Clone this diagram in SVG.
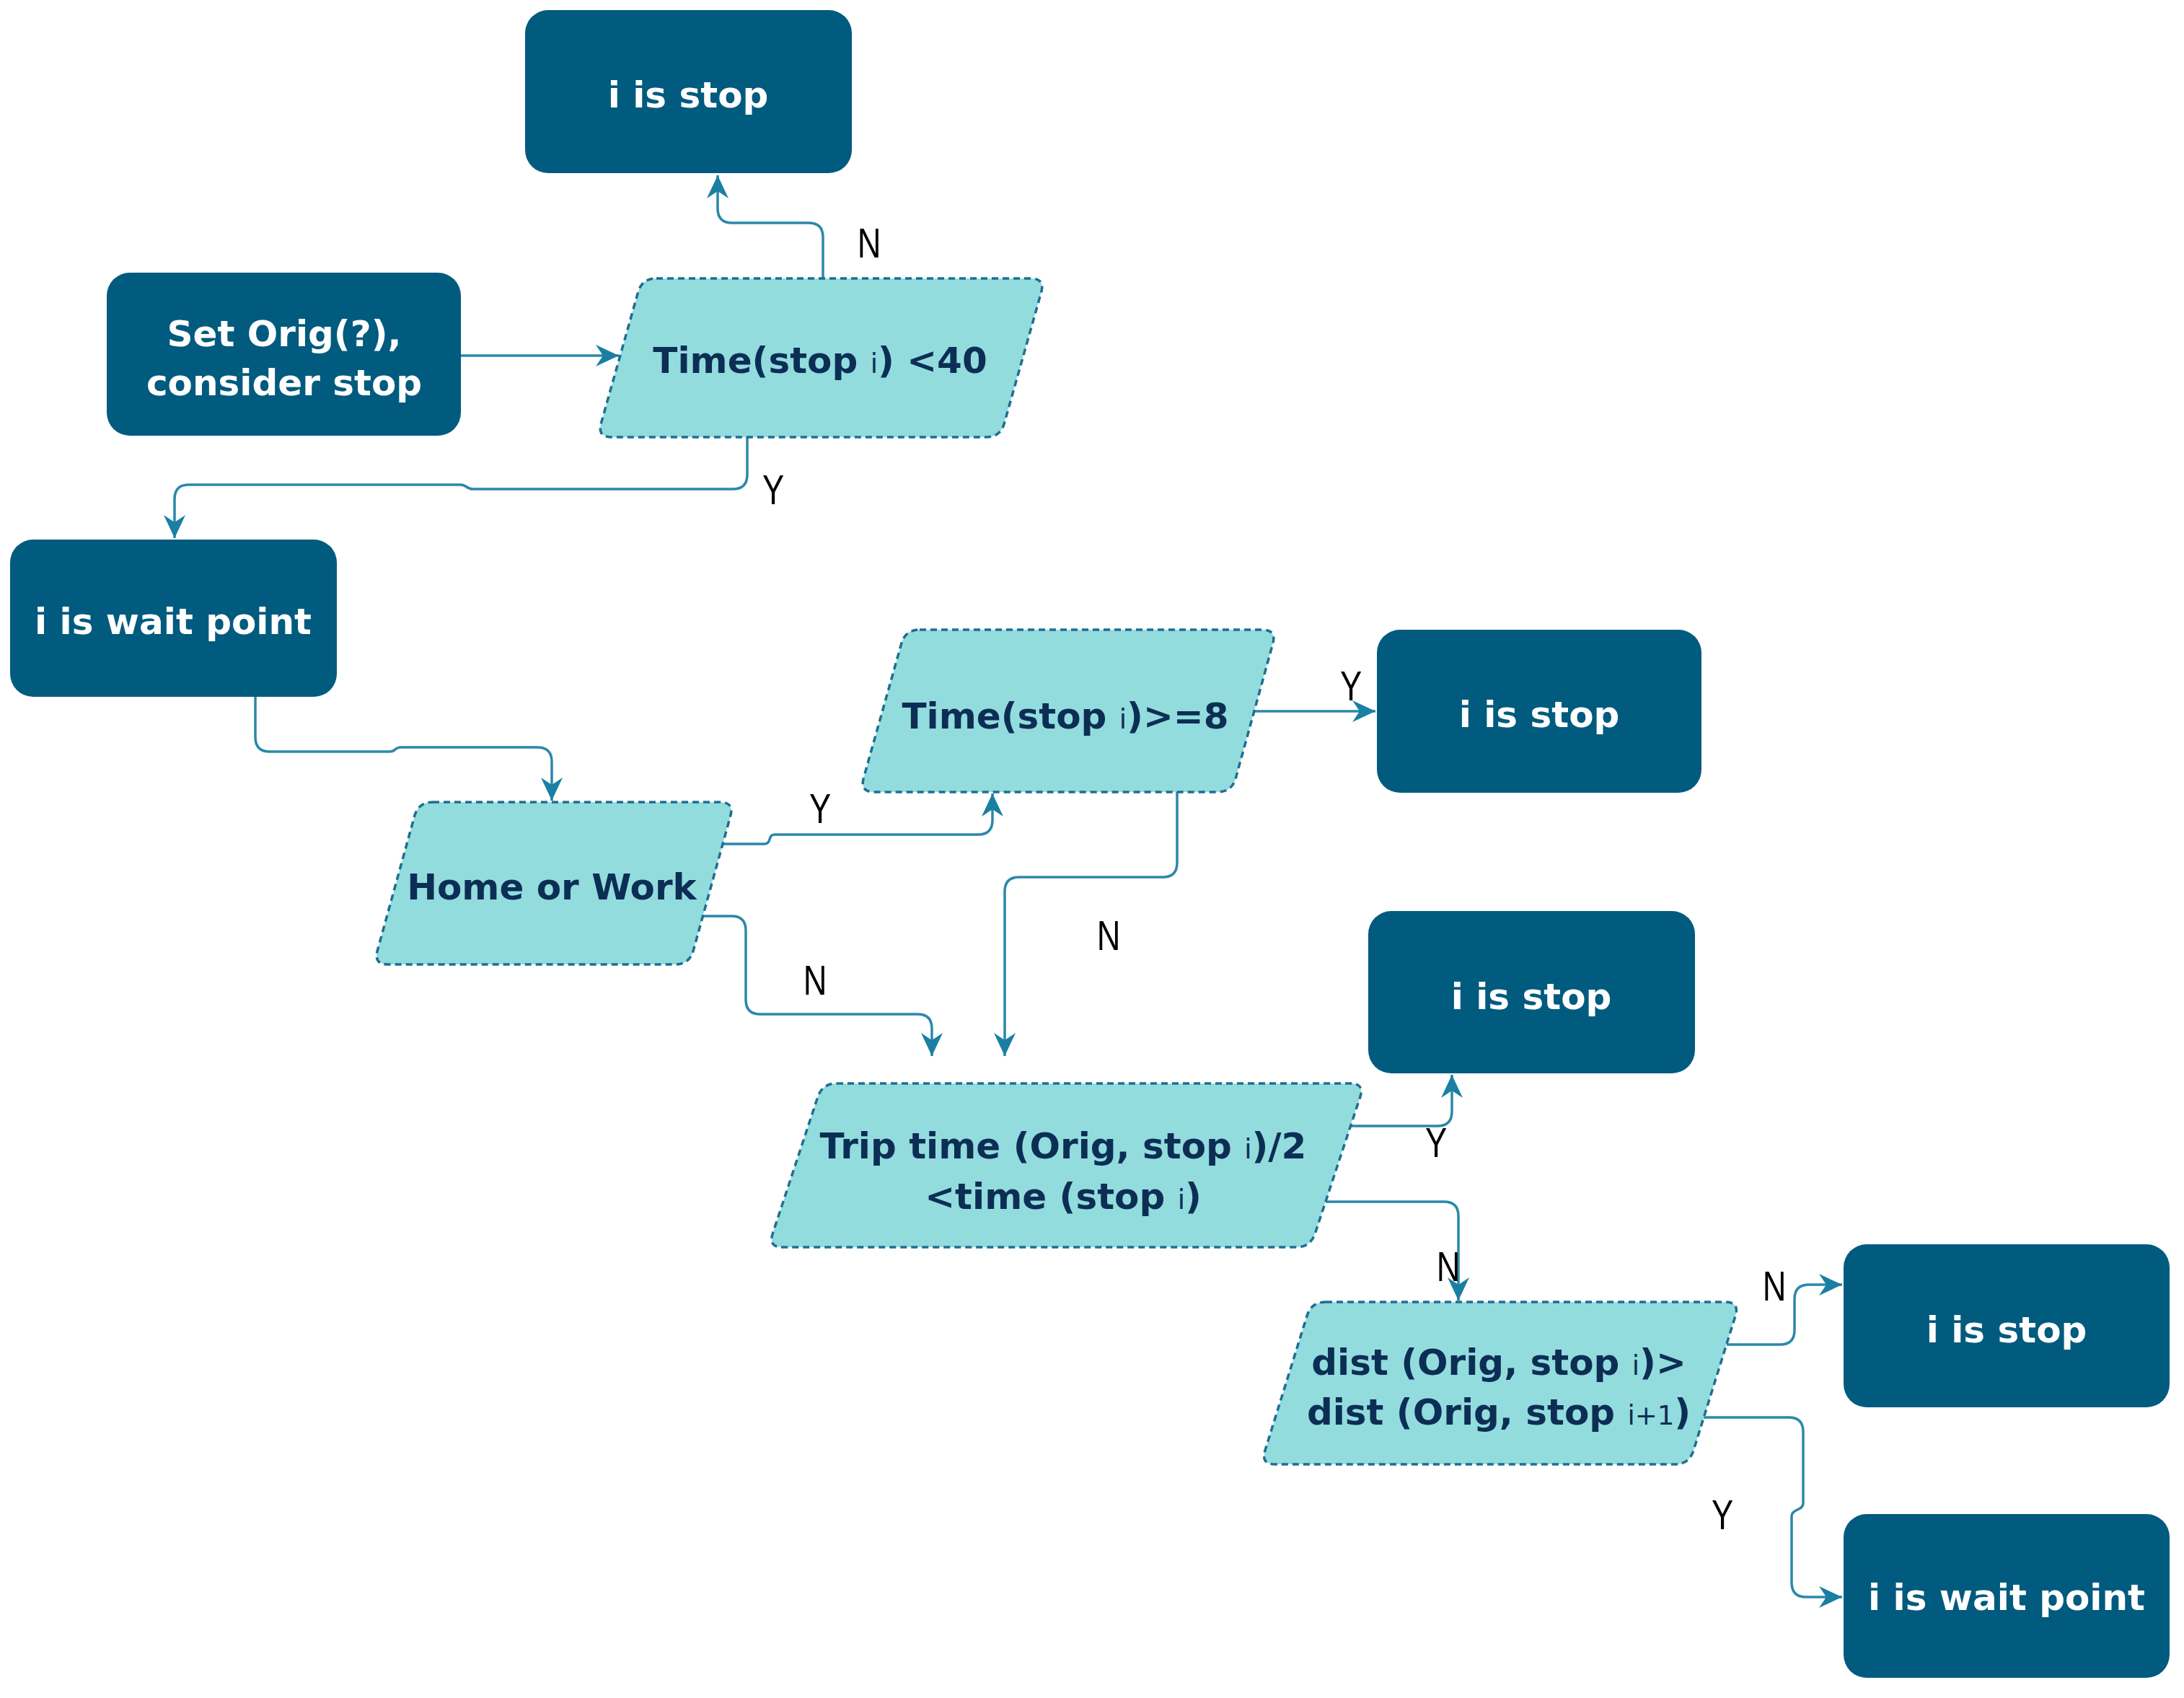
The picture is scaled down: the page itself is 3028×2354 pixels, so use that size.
<svg xmlns="http://www.w3.org/2000/svg" width="3028" height="2354" viewBox="0 0 3028 2354">
<style>
.box{fill:#005B7E;}
.dec{fill:#93DCDD;stroke:#1E6E93;stroke-width:3.5;stroke-dasharray:9 6;}
.wt{fill:#FFFFFF;font-family:"DejaVu Sans",Verdana,sans-serif;font-weight:bold;font-size:50px;text-anchor:middle;}
.nt{fill:#0C2E55;font-family:"DejaVu Sans",Verdana,sans-serif;font-weight:bold;font-size:50px;text-anchor:middle;}
.sub{font-size:37px;font-weight:normal;}
.edge{fill:none;stroke:#2B88AA;stroke-width:3.5;}
.lbl{fill:#000000;font-family:"Liberation Sans",Arial,sans-serif;font-size:58px;text-anchor:middle;}
</style>
<defs>
<marker id="arr" markerUnits="userSpaceOnUse" markerWidth="32" markerHeight="30" viewBox="0 0 32 30" refX="32" refY="15" orient="auto">
<path d="M0,0 L32,15 L0,30 L10,15 Z" fill="#1A7FA3"/>
</marker>
</defs>
<rect width="3028" height="2354" fill="#FFFFFF"/>

<g id="edges">
<path class="edge" marker-end="url(#arr)" d="M1141,386 L1141,329 Q1141,309 1121,309 L1015,309 Q995,309 995,289 L995,243"/>
<path class="edge" marker-end="url(#arr)" d="M639,493 L858,493"/>
<path class="edge" marker-end="url(#arr)" d="M1036,606 L1036,658 Q1036,678 1016,678 L656,678 C646,678 648,672 638,672 L262,672 Q242,672 242,692 L242,746"/>
<path class="edge" marker-end="url(#arr)" d="M354,966 L354,1022 Q354,1042 374,1042 L540,1042 C550,1042 546,1036 556,1036 L745,1036 Q765,1036 765,1056 L765,1110"/>
<path class="edge" marker-end="url(#arr)" d="M1002,1170 L1060,1170 C1070,1170 1064,1157 1074,1157 L1356,1157 Q1376,1157 1376,1137 L1376,1100"/>
<path class="edge" marker-end="url(#arr)" d="M1739,986 L1907,986"/>
<path class="edge" marker-end="url(#arr)" d="M1632,1098 L1632,1196 Q1632,1216 1612,1216 L1413,1216 Q1393,1216 1393,1236 L1393,1464"/>
<path class="edge" marker-end="url(#arr)" d="M974,1270 L1014,1270 Q1034,1270 1034,1290 L1034,1386 Q1034,1406 1054,1406 L1272,1406 Q1292,1406 1292,1426 L1292,1464"/>
<path class="edge" marker-end="url(#arr)" d="M1873,1561 L1993,1561 Q2013,1561 2013,1541 L2013,1490"/>
<path class="edge" marker-end="url(#arr)" d="M1838,1666 L2002,1666 Q2022,1666 2022,1686 L2022,1803"/>
<path class="edge" marker-end="url(#arr)" d="M2394,1864 L2468,1864 Q2488,1864 2488,1844 L2488,1801 Q2488,1781 2508,1781 L2554,1781"/>
<path class="edge" marker-end="url(#arr)" d="M2362,1965 L2480,1965 Q2500,1965 2500,1985 L2500,2084 C2500,2094 2484,2092 2484,2102 L2484,2194 Q2484,2214 2504,2214 L2554,2214"/>
<text class="lbl" transform="translate(1205,357) scale(0.78,1)">N</text>
<text class="lbl" transform="translate(1072,699) scale(0.78,1)">Y</text>
<text class="lbl" transform="translate(1137,1141) scale(0.78,1)">Y</text>
<text class="lbl" transform="translate(1873,971) scale(0.78,1)">Y</text>
<text class="lbl" transform="translate(1537,1317) scale(0.78,1)">N</text>
<text class="lbl" transform="translate(1130,1379) scale(0.78,1)">N</text>
<text class="lbl" transform="translate(1991,1604) scale(0.78,1)">Y</text>
<text class="lbl" transform="translate(2008,1776) scale(0.78,1)">N</text>
<text class="lbl" transform="translate(2460,1803) scale(0.78,1)">N</text>
<text class="lbl" transform="translate(2388,2120) scale(0.78,1)">Y</text>
</g>

<g id="stop1">
<rect class="box" x="728" y="14" width="453" height="226" rx="32"/>
<text class="wt" x="954" y="149">i is stop</text>
</g>

<g id="setorig">
<rect class="box" x="148" y="378" width="491" height="226" rx="32"/>
<text class="wt" x="394" y="480">Set Orig(?),</text>
<text class="wt" x="394" y="548">consider stop</text>
</g>

<g id="time40">
<path class="dec" d="M910,386 L1429,386 Q1449,386 1443.6,405.2 L1392.4,586.8 Q1387,606 1367,606 L848,606 Q828,606 833.4,586.8 L884.6,405.2 Q890,386 910,386 Z"/>
<text class="nt" x="1137" y="517">Time(stop <tspan class="sub">i</tspan>) &lt;40</text>
</g>

<g id="wait1">
<rect class="box" x="14" y="748" width="453" height="218" rx="32"/>
<text class="wt" x="240" y="879">i is wait point</text>
</g>

<g id="time8">
<path class="dec" d="M1275,873 L1750,873 Q1770,873 1764.7,892.3 L1713.3,1078.7 Q1708,1098 1688,1098 L1212,1098 Q1192,1098 1197.3,1078.7 L1249.7,892.3 Q1255,873 1275,873 Z"/>
<text class="nt" x="1477" y="1010">Time(stop <tspan class="sub">i</tspan>)&gt;=8</text>
</g>

<g id="stop2">
<rect class="box" x="1909" y="873" width="450" height="226" rx="32"/>
<text class="wt" x="2134" y="1008">i is stop</text>
</g>

<g id="homework">
<path class="dec" d="M600,1112 L998,1112 Q1018,1112 1012.7,1131.3 L961.3,1317.7 Q956,1337 936,1337 L538,1337 Q518,1337 523.3,1317.7 L574.7,1131.3 Q580,1112 600,1112 Z"/>
<text class="nt" x="765" y="1247">Home or Work</text>
</g>

<g id="stop3">
<rect class="box" x="1897" y="1263" width="453" height="225" rx="32"/>
<text class="wt" x="2123" y="1399">i is stop</text>
</g>

<g id="triptime">
<path class="dec" d="M1160,1502 L1872,1502 Q1892,1502 1885.7,1521 L1823.3,1710 Q1817,1729 1797,1729 L1085,1729 Q1065,1729 1071.3,1710 L1133.7,1521 Q1140,1502 1160,1502 Z"/>
<text class="nt" x="1474" y="1606">Trip time (Orig, stop <tspan class="sub">i</tspan>)/2</text>
<text class="nt" x="1474" y="1676">&lt;time (stop <tspan class="sub">i</tspan>)</text>
</g>

<g id="dist">
<path class="dec" d="M1838,1805 L2392,1805 Q2412,1805 2406.1,1824.1 L2347.9,2010.9 Q2342,2030 2322,2030 L1768,2030 Q1748,2030 1753.9,2010.9 L1812.1,1824.1 Q1818,1805 1838,1805 Z"/>
<text class="nt" x="2078" y="1906">dist (Orig, stop <tspan class="sub">i</tspan>)&gt;</text>
<text class="nt" x="2078" y="1975">dist (Orig, stop <tspan class="sub">i+1</tspan>)</text>
</g>

<g id="stop4">
<rect class="box" x="2556" y="1725" width="452" height="226" rx="32"/>
<text class="wt" x="2782" y="1861">i is stop</text>
</g>

<g id="wait2">
<rect class="box" x="2556" y="2099" width="452" height="227" rx="32"/>
<text class="wt" x="2782" y="2232">i is wait point</text>
</g>
</svg>
